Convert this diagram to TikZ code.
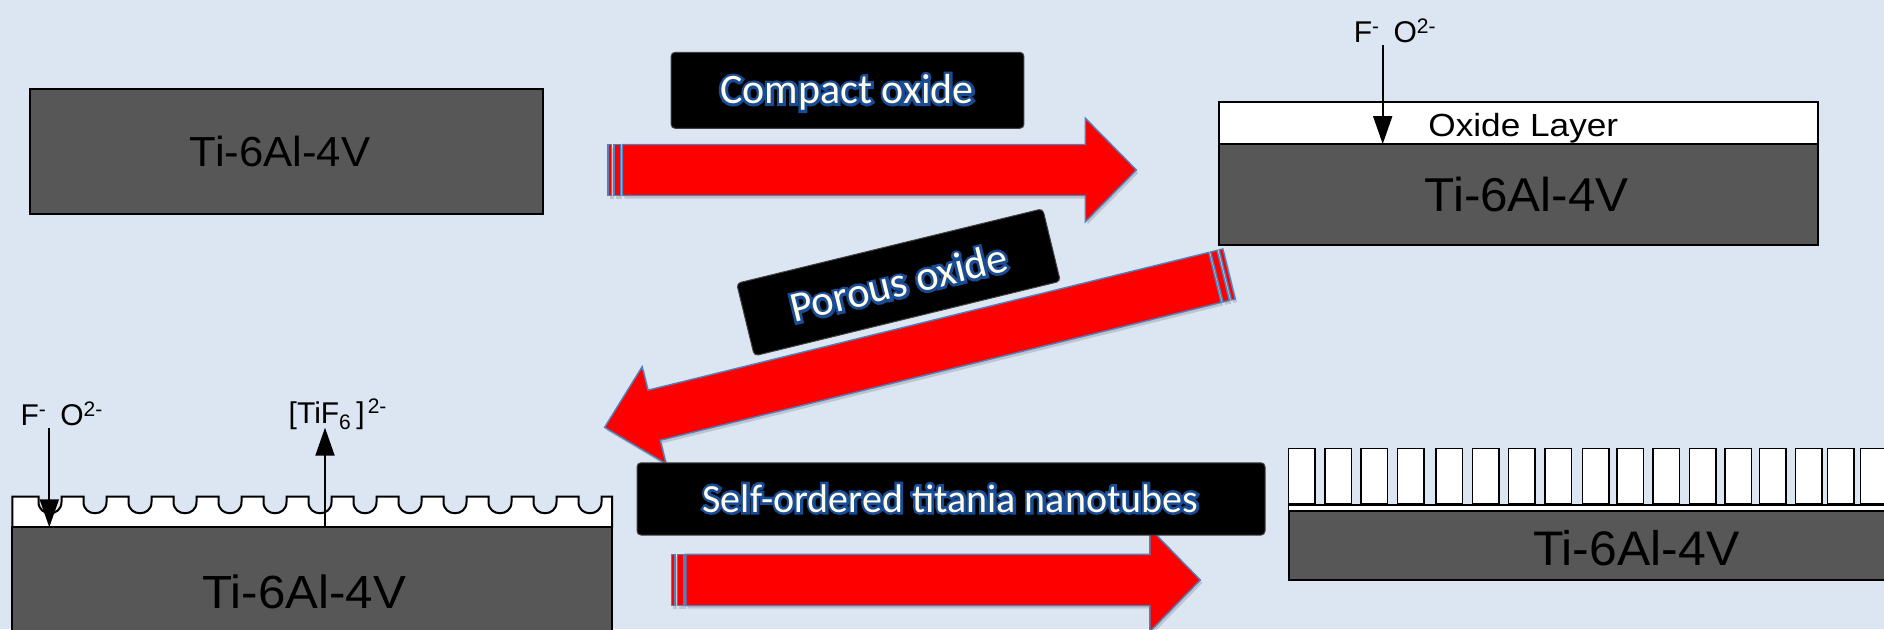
\documentclass[tikz,border=0pt]{standalone}
\usepackage{fontspec}
\setmainfont{Liberation Sans}
\newfontfamily\bannerfont{Carlito}
\newfontfamily\bannerrim[FakeBold=13]{Carlito}
\usepackage{graphicx}
\usetikzlibrary{arrows.meta}

\definecolor{canvas}{RGB}{220,230,242}
\definecolor{alloy}{RGB}{87,87,87}
\definecolor{bodyred}{RGB}{255,0,0}
\definecolor{rimblue}{RGB}{79,129,189}
\definecolor{glyphfill}{RGB}{255,252,232}
\definecolor{glyphrim}{RGB}{24,76,150}

% banner lettering: a heavier dark-blue copy beneath the light letters
\newcommand{\rimmed}[1]{\makebox[0pt][l]{\color{glyphrim}\bannerrim #1}#1}

\tikzset{
  alloyfill/.style={fill=alloy, draw=black, line width=2pt},
  oxidefill/.style={fill=white, draw=black, line width=2pt},
  tubewall/.style={fill=white, draw=black, line width=1.6pt},
  alloylabel/.style={text=black, inner sep=0pt, anchor=base},
  ionlabel/.style={font=\fontsize{30}{36}\selectfont, text=black, inner sep=0pt, anchor=base west},
  ionflux/.style={draw=black, line width=2pt, -{Triangle[width=19pt,length=28pt]}},
  arrowbody/.style={fill=bodyred, draw=rimblue, line width=1.4pt, line join=miter},
  arrowshade/.style={fill=black, fill opacity=0.14},
  banner/.style={fill=black, draw=black!75, line width=1pt, rounded corners=4pt, inner sep=0pt},
  bannertext/.style={text=glyphfill, inner sep=0pt},
}

% striped block arrow along +x: #1 length, #2 head length,
% #3 shaft half-width, #4 head half-width, #5 style
\newcommand{\arrowoutline}[5]{%
  \path[#5] (0,-#3) -- (3.8,-#3) -- (3.8,#3) -- (0,#3) -- cycle;
  \path[#5] (6,-#3) -- (12.5,-#3) -- (12.5,#3) -- (6,#3) -- cycle;
  \path[#5] (14.5,-#3) -- ({#1-#2},-#3) -- ({#1-#2},-#4) -- (#1,0)
            -- ({#1-#2},#4) -- ({#1-#2},#3) -- (14.5,#3) -- cycle;
}
% tail point (#1,#2), direction #3, sizes #4..#7
\newcommand{\stripedarrow}[7]{%
  \begin{scope}[shift={(#1,#2)}]
    \begin{scope}[shift={(2,3)}, rotate=#3]\arrowoutline{#4}{#5}{#6}{#7}{arrowshade}\end{scope}
    \begin{scope}[rotate=#3]\arrowoutline{#4}{#5}{#6}{#7}{arrowbody}\end{scope}
  \end{scope}}

\begin{document}
\begin{tikzpicture}[x=1pt, y=-1pt]
\useasboundingbox (0,0) rectangle (1884,629);
\fill[canvas] (0,0) rectangle (1884,629);
\clip (0,0) rectangle (1884,629);

% ---- bare alloy ----
\draw[alloyfill] (30,89) rectangle (543,214);
\node[alloylabel, font={\fontsize{42}{48}\selectfont}] (bareAlloy) at (280.2,166)
  {\scalebox{1.04}[1]{Ti-6Al-4V}};

% ---- alloy with compact oxide ----
\draw[oxidefill] (1219,101.7) rectangle (1817.6,144);
\draw[alloyfill] (1219,144) rectangle (1817.6,245);
\node[alloylabel, font={\fontsize{32}{38}\selectfont}] (oxideLayer) at (1523.3,136.7)
  {\scalebox{1.1}[1]{Oxide Layer}};
\node[alloylabel, font={\fontsize{47.5}{54}\selectfont}] (compactAlloy) at (1526.7,211.7)
  {\scalebox{1.04}[1]{Ti-6Al-4V}};
\node[ionlabel] (ionsTop) at (1353.6,42.7) {F\textsuperscript{-}\hspace{14pt}O\textsuperscript{2-}};
\coordinate (ionsTopStart) at (1382.7,45);
\coordinate (ionsTopEnd) at (1382.7,144);
\draw[ionflux] (ionsTopStart) -- (ionsTopEnd);

% ---- alloy with porous oxide ----
\draw[oxidefill] (12.3,527.3) -- (12.3,496.7)
  \foreach \k in {0,...,12}{
    -- ({50+45*\k-11.5},496.7) -- ({50+45*\k-11.5},502)
    .. controls ({50+45*\k-11.5},517) and ({50+45*\k+11.5},517) .. ({50+45*\k+11.5},502)
    -- ({50+45*\k+11.5},496.7)}
  -- (612,496.7) -- (612,527.3) -- cycle;
\draw[alloyfill] (12.3,527.3) rectangle (612,640);
\node[alloylabel, font={\fontsize{46.5}{52}\selectfont}] (porousAlloy) at (304.2,608.3)
  {\scalebox{1.06}[1]{Ti-6Al-4V}};
\node[ionlabel] (ionsIn) at (20.3,425.7) {F\textsuperscript{-}\hspace{14pt}O\textsuperscript{2-}};
\node[ionlabel] (ionsOut) at (288.5,423) {[TiF\textsubscript{6}\hspace{5pt}]\hspace{3pt}\textsuperscript{2-}};
\coordinate (ionsInStart) at (49.3,428);
\coordinate (ionsInEnd) at (49.3,527.3);
\coordinate (ionsOutStart) at (325,527.3);
\coordinate (ionsOutEnd) at (325,427.7);
\draw[ionflux] (ionsInStart) -- (ionsInEnd);
\draw[ionflux] (ionsOutStart) -- (ionsOutEnd);

% ---- alloy with nanotube array ----
\foreach \x in {1288.5,1325.1,1360.9,1397.5,1436,1472.6,1508.4,1545,1582.4,
                1617.1,1652.9,1689.5,1724.9,1759.6,1795.4,1827.6,1860.5}
  \draw[tubewall] (\x,448.3) rectangle ({\x+26.5},504);
\draw[oxidefill, line width=1.6pt] (1288.5,505) rectangle (1900,511);
\draw[alloyfill] (1288.5,511) rectangle (1900,580);
\node[alloylabel, font={\fontsize{48.5}{54}\selectfont}] (tubeAlloy) at (1636.3,565)
  {\scalebox{1.03}[1]{Ti-6Al-4V}};

% ---- process arrows ----
\stripedarrow{607.9}{170}{0}{528.5}{51}{25.5}{51.7}
\stripedarrow{1229}{274}{193.8}{643}{51}{25.8}{50}
\stripedarrow{671.3}{580}{0}{529}{50.5}{25.7}{51.7}

% ---- step banners ----
\node[banner, minimum width=352.8pt, minimum height=76pt] (compactBox) at (847.5,90.3) {};
\node[bannertext, anchor=base, font={\bannerfont\fontsize{42}{48}\selectfont}] (compactText)
  at (847,103.5) {\rimmed{Compact oxide}};

\node[banner, bannertext, minimum width=315pt, minimum height=74.6pt, rotate=13.7,
      font={\bannerfont\fontsize{42.5}{48}\selectfont}] (porousBox) at (898.5,282.3)
  {\rimmed{Porous oxide}};

\node[banner, minimum width=628pt, minimum height=72.3pt] (selfBox) at (951,498.9) {};
\node[bannertext, anchor=base, font={\bannerfont\fontsize{40}{46}\selectfont}] (selfText)
  at (950.4,512) {\rimmed{Self-ordered titania nanotubes}};
\end{tikzpicture}
\end{document}
